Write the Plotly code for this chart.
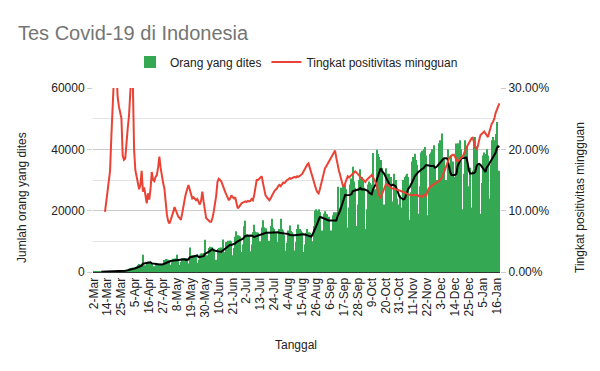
import pandas as pd
import plotly.graph_objects as go

# ---- data ----
first_date = ["2020-03-02"]
later_dates = [d.strftime("%Y-%m-%d") for d in pd.date_range("2020-03-04", periods=321)]
dates = pd.to_datetime(first_date + later_dates)
categories = [f"{d.day}-{d.strftime('%b')}" for d in dates]

tested = [
    40, 30, 50, 60, 40,
    30, 60, 90, 100, 80, 110, 90,
    80, 120, 150, 170, 160, 180, 190,
    200, 280, 380, 450, 500, 520, 470,
    600, 800, 1100, 1300, 1400, 1350, 1250,
    1400, 1800, 2300, 2600, 2500, 2700, 5600,
    1600, 2200, 3000, 3400, 3300, 3200, 3000,
    1500, 1900, 2500, 2700, 2600, 2800, 2700,
    1800, 2700, 3900, 4200, 4100, 4000, 3900,
    2400, 3200, 4300, 4400, 4300, 5600, 4100,
    2300, 3300, 4500, 4600, 4400, 4500, 4400,
    2800, 8000, 5300, 5400, 5300, 5500, 5300,
    2900, 4000, 5700, 6000, 6000, 6200, 10500,
    4000, 5500, 7800, 8200, 8000, 8100, 7600,
    3300, 4000, 7500, 7800, 7900, 8000, 10600,
    4800, 6500, 9800, 10200, 10000, 10300, 10000,
    5500, 7800, 11500, 13300, 12000, 11800, 11600,
    6500, 9000, 14900, 16700, 12300, 12000, 11800,
    6800, 9000, 13000, 15400, 13200, 13000, 12800,
    7200, 10000, 14500, 16900, 14600, 14300, 12500,
    7000, 10200, 15000, 17400, 14500, 14000, 12600,
    7200, 9800, 14000, 17400, 14000, 13500, 12000,
    6900, 9500, 13500, 15200, 13400, 13000, 12500,
    7000, 9800, 14000, 15500, 14000, 13500, 13000,
    6500, 9000, 12800, 14000, 13000, 12800, 12500,
    10000, 15000, 20000, 20500, 20000, 20500, 19500,
    9500, 13500, 19000, 19800, 19000, 18800, 18000,
    9500, 13500, 18500, 19500, 19000, 19500, 27800,
    14500, 21000, 27500, 28500, 28000, 28500, 27000,
    14500, 21000, 28500, 30500, 34300, 29500, 27500,
    15000, 22000, 30000, 33500, 31000, 30000, 27500,
    14000, 20500, 28500, 29500, 29000, 28500, 38800,
    18000, 27000, 39900, 38500, 37500, 36500, 34000,
    15000, 22000, 33800, 32000, 31500, 32000, 31000,
    16000, 23000, 32000, 30000, 24000, 22000, 25000,
    13500, 21000, 30000, 31000, 31500, 32000, 31000,
    17000, 26000, 36000, 37500, 38600, 36500, 35000,
    19000, 28000, 39000, 39500, 40000, 40800, 38000,
    18500, 27000, 38500, 39000, 40000, 41300, 34000,
    19500, 30000, 42000, 43000, 42500, 45200, 37000,
    20000, 30000, 40000, 24000, 33000, 38000, 36000,
    20000, 31000, 41900, 42000, 41500, 43000, 40000,
    20500, 32000, 43000, 41000, 28000, 26000, 34000,
    21000, 33000, 43000, 44000, 41000, 30000, 35000,
    19000, 29000, 38000, 39000, 38500, 40000, 38000,
    24000, 35000, 43000, 44000, 43000, 45000, 48900,
    28000, 33000,
]

positivity_pct = [None] * 9 + [
    9.8, 11.5, 13.0, 14.5, 16.5, 22, 29, 34, 36, 33,
    28.5, 27, 26, 25, 19, 18.3, 18.5, 21.5, 23.5, 25.5,
    28, 33, 31, 20, 16.6, 15.5, 14.7, 13.5, 14.2, 16.5,
    13.1, 13.8, 12.5, 11.2, 12.8, 11.8, 13.5, 16.3, 15.0, 14.8,
    15.5, 15.8, 17.0, 18.8, 17.0, 15.5, 14.5, 13.6, 11.0, 9.3,
    8.3, 7.9, 8.5, 9.0, 9.8, 10.6, 10.0, 9.3, 9.0, 8.8,
    8.5, 9.5, 10.9, 11.8, 12.8, 13.6, 14.2, 13.5, 12.8, 12.0,
    12.2, 11.9, 11.7, 11.9, 11.5, 11.0, 11.6, 13.1, 11.5, 10.4,
    8.8, 8.6, 8.4, 8.2, 8.2, 8.8, 9.8, 10.9, 12.5, 14.7,
    15.2, 15.0, 14.8, 14.2, 13.5, 13.1, 12.6, 12.0, 11.7, 12.0,
    12.5, 12.2, 12.0, 12.2, 11.2, 10.4, 10.6, 11.0, 11.2, 11.3,
    11.4, 11.5, 11.4, 11.6, 11.5, 11.6, 11.9, 11.7, 12.5, 14.2,
    15.0, 15.0, 15.2, 15.4, 15.6, 14.5, 13.1, 12.5, 12.2, 12.0,
    11.7, 12.0, 12.5, 12.8, 13.2, 13.4, 13.6, 14.0, 14.2, 14.0,
    14.3, 14.6, 14.5, 14.8, 15.0, 15.1, 15.3, 15.2, 15.3, 15.4,
    15.5, 15.4, 15.6, 15.5, 15.6, 15.8, 16.0, 16.4, 16.6, 17.0,
    17.5, 17.7, 17.0, 16.2, 15.2, 14.5, 13.8, 13.5, 13.0, 12.8,
    13.5, 14.5, 15.3, 16.2, 16.9, 17.2, 17.6, 18.0, 18.3, 18.8,
    19.2, 19.6, 19.8, 18.6, 17.4, 16.6, 15.8, 15.0, 14.2, 13.9,
    14.5, 15.2, 15.6, 15.4, 15.6, 15.8, 15.9, 16.2, 16.4, 16.2,
    15.9, 15.6, 15.5, 15.3, 15.1, 14.9, 14.7, 15.0, 15.2, 15.5,
    15.7, 15.8, 15.5, 15.0, 14.5, 14.2, 13.0, 12.3, 12.0, 12.6,
    13.2, 13.9, 14.2, 14.3, 14.2, 14.0, 13.8, 13.6, 13.6, 13.6,
    13.5, 13.4, 13.4, 13.3, 13.2, 13.1, 13.1, 13.0, 12.9, 12.8,
    12.7, 12.6, 12.5, 12.5, 12.6, 12.6, 12.5, 12.6, 12.4, 12.4,
    12.3, 12.3, 12.5, 12.6, 12.4, 13.0, 13.6, 13.8, 14.0, 14.2,
    14.3, 14.4, 14.5, 14.6, 14.8, 15.0, 15.2, 15.6, 16.2, 16.8,
    17.4, 17.9, 18.4, 18.8, 19.0, 19.1, 19.1, 18.7, 18.3, 18.0,
    18.2, 18.5, 18.7, 18.8, 19.2, 19.8, 20.3, 20.7, 21.1, 21.5,
    21.8, 21.9, 21.0, 20.3, 20.1, 20.5, 21.5, 22.3, 22.5, 22.7,
    22.9, 22.6, 22.2, 22.0, 22.8, 23.6, 24.2, 24.5, 25.0, 25.9,
    26.5, 27.0, 27.5,
]

left_ticks = [0, 20000, 40000, 60000]
right_ticks = [0, 10, 20, 30]
right_ticktext = ["0.00%", "10.00%", "20.00%", "30.00%"]

# 7-day moving average trendline of the daily tests
moving_avg = pd.Series(tested).rolling(7).mean().tolist()

FONT = "Arial, Liberation Sans, sans-serif"

fig = go.Figure()
fig.add_trace(go.Bar(
    x=categories, y=tested, name="Orang yang dites",
    marker=dict(color="#34a853", line=dict(width=0)),
))
fig.add_trace(go.Scatter(
    x=categories, y=moving_avg, mode="lines", showlegend=False,
    line=dict(color="#000000", width=2),
))
fig.add_trace(go.Scatter(
    x=categories, y=positivity_pct, mode="lines", yaxis="y2",
    name="Tingkat positivitas mingguan",
    line=dict(color="#ea4335", width=2),
))

fig.update_layout(
    width=600, height=371,
    margin=dict(l=93, r=100, t=88, b=99),
    paper_bgcolor="white", plot_bgcolor="white",
    font=dict(family=FONT, size=12, color="#222222"),
    bargap=0.2,
    title=dict(text="Tes Covid-19 di Indonesia", x=18 / 600, xanchor="left",
               y=1 - 33 / 371, yanchor="middle",
               font=dict(size=20, color="#757575", family=FONT)),
    legend=dict(orientation="h", x=0.5, xanchor="center",
                y=(272 - 62) / 184, yanchor="middle",
                font=dict(size=12, color="#222222"), itemwidth=30),
    xaxis=dict(type="category", tickmode="array", tickvals=categories[::11],
               ticktext=categories[::11], tickangle=-90,
               tickfont=dict(size=12, color="#222222"),
               showgrid=False, showline=True, linecolor="#333333",
               range=[-0.5, len(categories) - 0.5]),
    yaxis=dict(range=[0, 60000], tickmode="array", tickvals=left_ticks,
               ticktext=[str(v) for v in left_ticks],
               showgrid=True, gridcolor="#cccccc", zeroline=False,
               ticks="outside", ticklen=5, tickcolor="#cccccc",
               tickfont=dict(size=12, color="#222222"),
               minor=dict(dtick=10000, tick0=0, showgrid=True, gridcolor="#e3e3e3")),
    yaxis2=dict(range=[0, 30], overlaying="y", side="right", tickmode="array",
                tickvals=right_ticks, ticktext=right_ticktext, showgrid=False,
                zeroline=False, ticks="outside", ticklen=5, tickcolor="#cccccc",
                tickfont=dict(size=12, color="#222222")),
    annotations=[
        dict(text="Jumlah orang yang dites", xref="paper", yref="paper",
             x=(22 - 93) / 407, y=(272 - 198) / 184, textangle=-90,
             showarrow=False, xanchor="center", yanchor="middle",
             font=dict(size=12, color="#222222")),
        dict(text="Tingkat positivitas mingguan", xref="paper", yref="paper",
             x=(580 - 93) / 407, y=(272 - 198) / 184, textangle=-90,
             showarrow=False, xanchor="center", yanchor="middle",
             font=dict(size=12, color="#222222")),
        dict(text="Tanggal", xref="paper", yref="paper",
             x=(296 - 93) / 407, y=(272 - 345) / 184,
             showarrow=False, xanchor="center", yanchor="middle",
             font=dict(size=12, color="#222222")),
    ],
)

fig.write_html("out.html",
               config={"displayModeBar": False},
               post_script="document.body.style.margin='0';document.body.style.overflow='hidden';")
